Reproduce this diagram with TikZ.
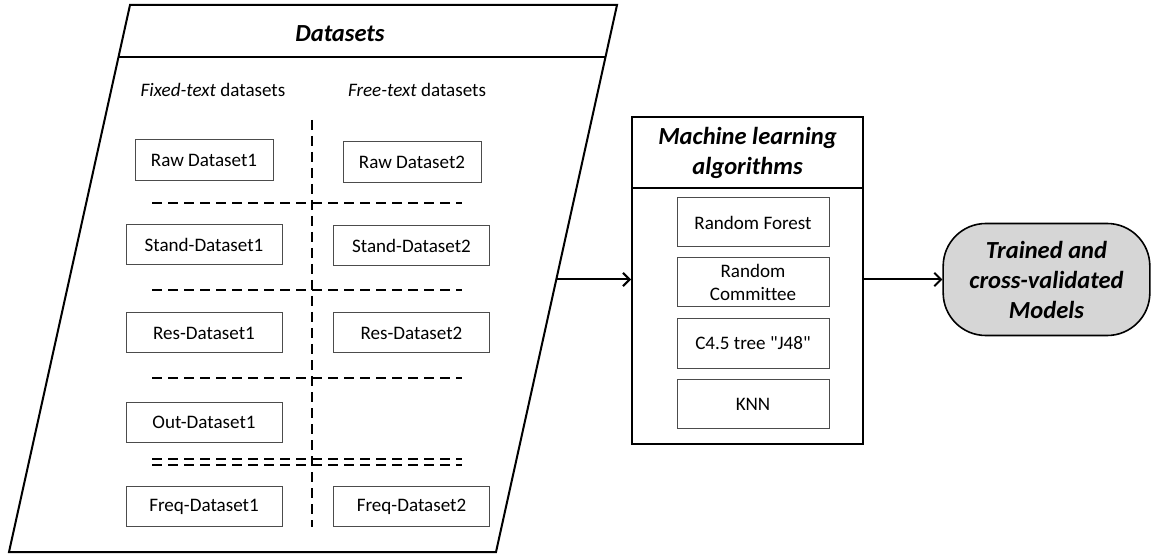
\documentclass[tikz,border=0pt]{standalone}
\usepackage{fontspec}
\setmainfont{Carlito}[Ligatures={NoCommon}]
\usetikzlibrary{arrows.meta}
\newcommand\strq{\XeTeXglyph\XeTeXcharglyph34\relax}
\begin{document}
\begin{tikzpicture}[x=0.75pt,y=-0.75pt,
  txt/.style={font=\fontsize{14.3}{18}\selectfont},
  ttl/.style={font=\fontsize{18.4}{22.5}\selectfont\bfseries\itshape, align=center},
  dbox/.style={draw=black!70, line width=0.75pt, minimum width=117pt, minimum height=30pt, inner sep=0pt, txt},
  rbox/.style={dbox, minimum width=103.5pt, minimum height=30.75pt},
  mbox/.style={draw=black!70, line width=0.75pt, minimum width=114pt, minimum height=36.75pt, inner sep=0pt, align=center, txt},
  sepline/.style={dash pattern=on 7.5pt off 4.5pt, line width=1.1pt},
  outer/.style={draw=black, line width=1.5pt},
  flow/.style={-{Straight Barb[length=5pt,width=10pt]}, line width=1.5pt}]
\useasboundingbox (0,0) rectangle (1151,555);

% Datasets parallelogram
\coordinate (tl) at (130,5);
\coordinate (tr) at (617,5);
\coordinate (br) at (496,552);
\coordinate (bl) at (9,552);
\draw[outer] (tl) -- (tr) -- (br) -- (bl) -- cycle;
\coordinate (sl) at (118.6,57);
\coordinate (sr) at (605.6,57);
\draw[outer] (sl) -- (sr);
\node[ttl] (dtitle) at (340,34) {Datasets};
\node[txt] (fixed) at (213,90) {\textit{Fixed-text} datasets};
\node[txt] (free) at (417,90) {\textit{Free-text} datasets};

% separators
\draw[sepline] (312,120) -- (312,527);
\foreach \yy in {203,290,378,459,465}{
  \draw[sepline] (152,\yy) -- (462,\yy);
}

% dataset boxes
\node[rbox] (raw1) at (204,160.5) {Raw Dataset1};
\node[rbox] (raw2) at (412,162.5) {Raw Dataset2};
\node[dbox] (stand1) at (204,245) {Stand-Dataset1};
\node[dbox] (stand2) at (411.5,246) {Stand-Dataset2};
\node[dbox] (res1) at (204,333) {Res-Dataset1};
\node[dbox] (res2) at (411.5,333) {Res-Dataset2};
\node[dbox] (out1) at (204,422) {Out-Dataset1};
\node[dbox] (freq1) at (204,506.5) {Freq-Dataset1};
\node[dbox] (freq2) at (411.5,506.5) {Freq-Dataset2};

% Machine learning box
\node[outer, minimum width=173.25pt, minimum height=245.25pt, inner sep=0pt] (ml) at (747.5,280.5) {};
\draw[outer] (632,188) -- (863,188);
\node[ttl] (mltitle) at (747.5,153) {Machine learning\\algorithms};
\node[mbox] (rf) at (753,222.5) {Random Forest};
\node[mbox] (rc) at (753,282.5) {Random\\[-1pt]Committee};
\node[mbox] (c45) at (753,343.5) {C4.5 tree \strq J48\strq};
\node[mbox] (knn) at (753,404) {KNN};

% Result
\node[draw=black, line width=1.2pt, fill=black!16, rounded corners=32pt, minimum width=155pt, minimum height=84pt, inner sep=0pt, ttl] (trained) at (1046.5,279.5) {Trained and\\cross-validated\\Models};

% arrows
\coordinate (pr) at (556.4,279.5);
\draw[flow] (pr) -- (ml.west |- pr);
\draw[flow] (ml.east |- pr) -- (trained.west);
\end{tikzpicture}
\end{document}
